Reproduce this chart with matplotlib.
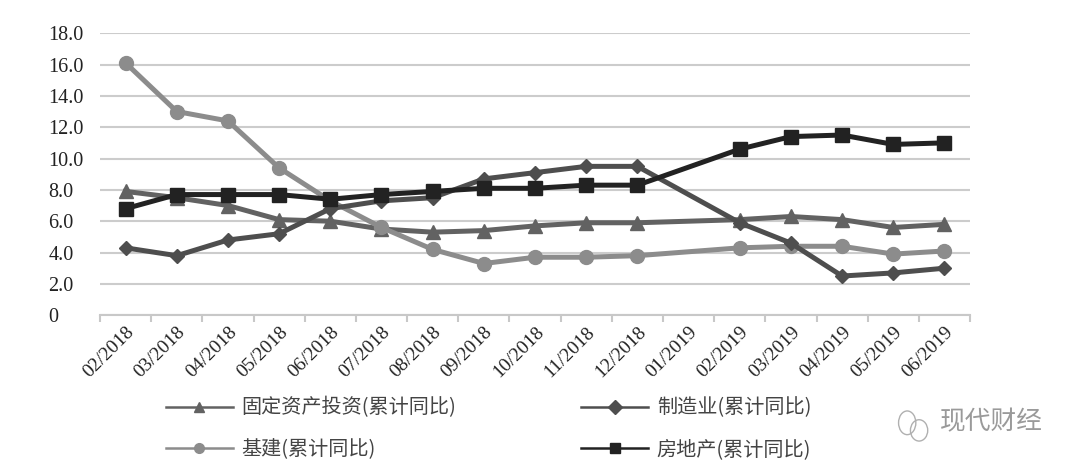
import numpy as np
import matplotlib
matplotlib.use("Agg")
from matplotlib import pyplot as plt
from matplotlib.patches import Ellipse

# Data (cumulative YoY, %); 01/2019 has no reading
months = ['02/2018', '03/2018', '04/2018', '05/2018', '06/2018', '07/2018',
          '08/2018', '09/2018', '10/2018', '11/2018', '12/2018', '01/2019',
          '02/2019', '03/2019', '04/2019', '05/2019', '06/2019']
fixed_asset = [7.9, 7.5, 7.0, 6.1, 6.0, 5.5, 5.3, 5.4, 5.7, 5.9, 5.9, np.nan,
               6.1, 6.3, 6.1, 5.6, 5.8]
manufacturing = [4.3, 3.8, 4.8, 5.2, 6.8, 7.3, 7.5, 8.7, 9.1, 9.5, 9.5, np.nan,
                 5.9, 4.6, 2.5, 2.7, 3.0]
infrastructure = [16.1, 13.0, 12.4, 9.4, 7.3, 5.6, 4.2, 3.3, 3.7, 3.7, 3.8, np.nan,
                  4.3, 4.4, 4.4, 3.9, 4.1]
real_estate = [6.8, 7.7, 7.7, 7.7, 7.4, 7.7, 7.9, 8.1, 8.1, 8.3, 8.3, np.nan,
               10.6, 11.4, 11.5, 10.9, 11.0]

series = [
    ('固定资产投资(累计同比)', fixed_asset, '#626262', '^', 10),
    ('基建(累计同比)', infrastructure, '#8c8c8c', 'o', 10),
    ('制造业(累计同比)', manufacturing, '#4e4e4e', 'D', 7),
    ('房地产(累计同比)', real_estate, '#222222', 's', 10),
]

cjk = ['Noto Sans CJK SC', 'DejaVu Sans']

fig = plt.figure(figsize=(10.8, 4.74), dpi=100)
ax = fig.add_axes([0.0926, 0.335, 0.8056, 0.595])

x = np.arange(len(months))
handles = []
for label, values, color, marker, ms in series:
    vals = np.array(values, dtype=float)
    ok = ~np.isnan(vals)
    ax.plot(x[ok], vals[ok], color=color, lw=3.6, marker=marker,
            markersize=ms, zorder=3)
    # thinner line for the legend key
    h, = ax.plot([], [], color=color, lw=1.8, marker=marker, markersize=7,
                 label=label)
    handles.append(h)

ax.set_xlim(-0.5, len(months) - 0.5)
ax.set_ylim(0, 18)
ax.set_yticks(np.arange(0, 19, 2))
ax.set_yticklabels(['0'] + ['%.1f' % v for v in np.arange(2, 19, 2)],
                   family='Liberation Serif', fontsize=14.5, color='#222222')
ax.set_xticks(x)
ax.set_xticklabels(months, rotation=45, ha='right', rotation_mode='anchor',
                   family='Liberation Serif', fontsize=14, color='#222222')
ax.set_xticks(np.arange(-0.5, len(months)), minor=True)
ax.tick_params(axis='x', which='major', length=0, pad=6)
ax.tick_params(axis='x', which='minor', length=5, width=1.5, color='#c8c8c8')
ax.tick_params(axis='y', length=0, pad=37)
for lbl in ax.get_yticklabels():
    lbl.set_horizontalalignment('left')

ax.grid(axis='y', color='#cccccc', lw=1.5)
ax.set_axisbelow(True)
for side in ['top', 'right', 'left']:
    ax.spines[side].set_visible(False)
ax.spines['bottom'].set_color('#c8c8c8')
ax.spines['bottom'].set_linewidth(1.5)

fig.legend(handles=handles, ncol=2, loc='upper left',
           bbox_to_anchor=(0.137, 0.2), frameon=False,
           prop={'family': cjk, 'size': 14.5}, labelcolor='#444444',
           handlelength=3.3, columnspacing=6.2, labelspacing=1.0,
           handletextpad=0.45)

# watermark
fig.text(0.870, 0.095, '现代财经', family=cjk, fontsize=18.5, color='#9a9a9a')
fig.add_artist(Ellipse((0.840, 0.108), 0.016, 0.05, transform=fig.transFigure,
                       fill=False, ec='#b0b0b0', lw=1))
fig.add_artist(Ellipse((0.851, 0.092), 0.016, 0.045, transform=fig.transFigure,
                       fill=False, ec='#b0b0b0', lw=1))

fig.savefig('out.png', dpi=100)
